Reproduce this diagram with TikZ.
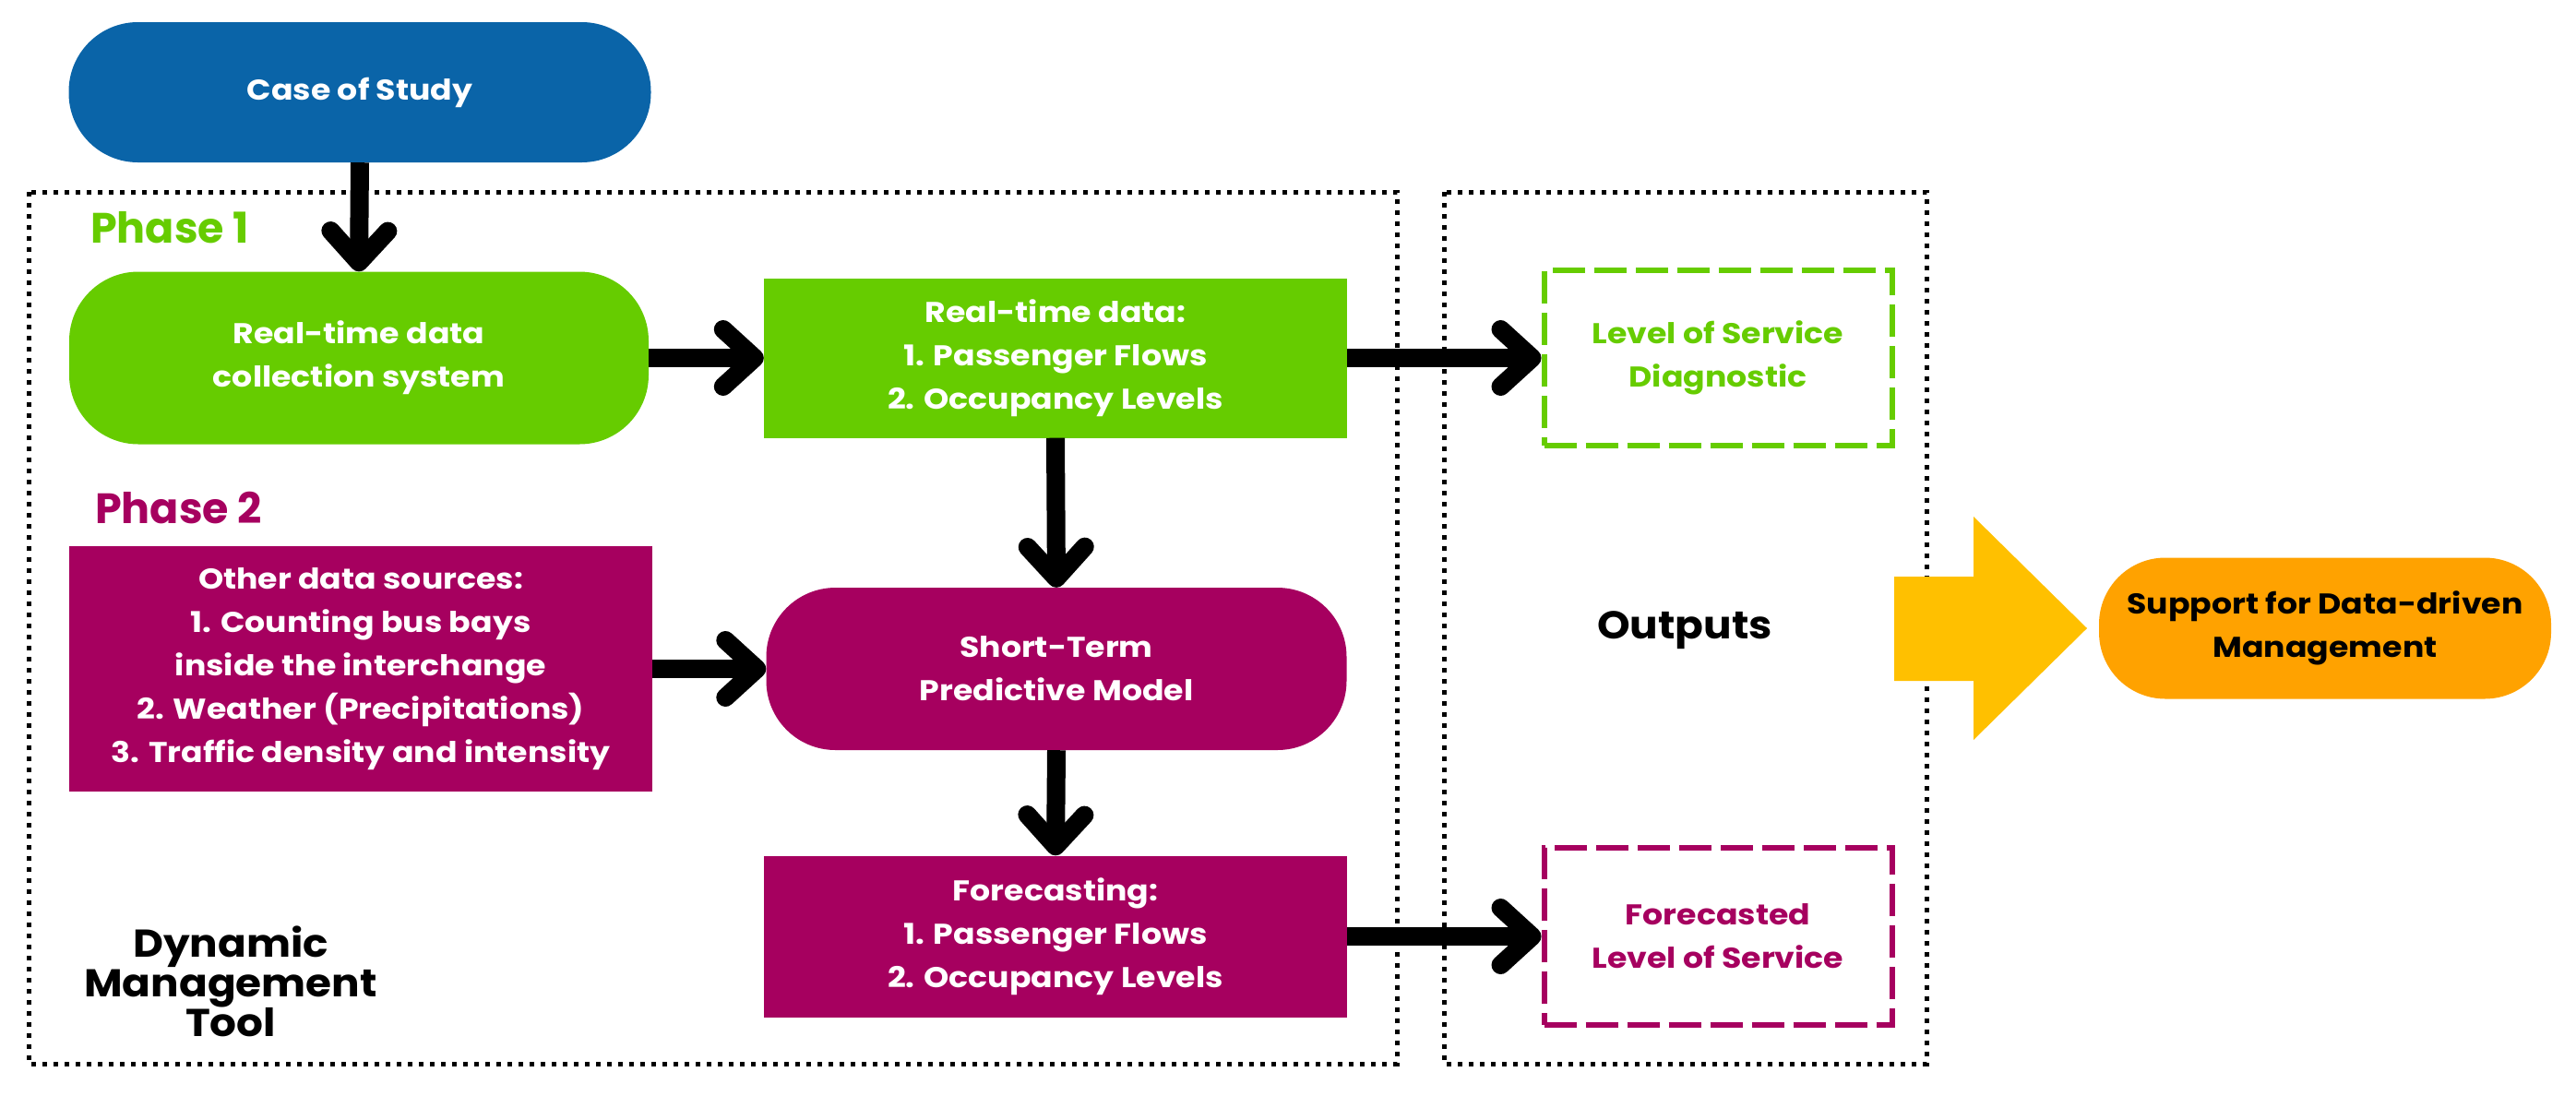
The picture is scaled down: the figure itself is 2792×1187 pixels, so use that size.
\documentclass[tikz,border=0pt]{standalone}
\usepackage{fontspec}
\setmainfont{Poppins}
\newfontfamily\bxfont{Poppins}[FakeStretch=1.12]
\newfontfamily\lbfont{Poppins}[FakeStretch=1.08]
\usetikzlibrary{arrows.meta}
\definecolor{cblue}{HTML}{0A64A8}
\definecolor{cgreen}{HTML}{66CC00}
\definecolor{cmag}{HTML}{A6005F}
\definecolor{corange}{HTML}{FFA200}
\definecolor{cyellow}{HTML}{FFC000}
\begin{document}
\begin{tikzpicture}[x=1pt,y=-1pt,
  boxtext/.style={text=white, font=\bxfont\bfseries\fontsize{31}{47}\selectfont, align=center, inner sep=0pt},
  pill/.style={boxtext, rounded corners=75pt},
  rectbox/.style={boxtext},
  outbox/.style={font=\bxfont\bfseries\fontsize{31}{47}\selectfont, align=center, inner sep=0pt, fill=white, line width=6pt, dash pattern=on 35pt off 10pt},
  frame/.style={line width=5pt, dash pattern=on 5pt off 7pt},
  flow/.style={line width=20pt, -{Straight Barb[length=34pt,width=62pt,round]}},
  label/.style={font=\lbfont\bfseries\fontsize{42}{43}\selectfont, inner sep=0pt, align=center},
  phase/.style={font=\bfseries\fontsize{46}{50}\selectfont, inner sep=0pt},
]
\useasboundingbox (0,0) rectangle (2792,1187);

% frames
\draw[frame] (31,208) rectangle (1514,1153);
\draw[frame] (1565,208) rectangle (2088,1153);

% nodes
\node[pill, fill=cblue, minimum width=631pt, minimum height=152pt] (case) at (390,100) {Case of Study};
\node[pill, fill=cgreen, minimum width=628pt, minimum height=187pt] (rtc) at (389,388) {Real-time data\\collection system};
\node[rectbox, fill=cgreen, minimum width=632pt, minimum height=173pt] (rtd) at (1144,388) {Real-time data:\\1. Passenger Flows\\2. Occupancy Levels};
\node[outbox, draw=cgreen, text=cgreen, minimum width=377pt, minimum height=190pt] (los) at (1862,388) {Level of Service\\Diagnostic};
\node[rectbox, fill=cmag, minimum width=632pt, minimum height=266pt] (other) at (391,725) {Other data sources:\\1. Counting bus bays\\inside the interchange\\2. Weather (Precipitations)\\3. Traffic density and intensity};
\node[pill, fill=cmag, minimum width=629pt, minimum height=176pt] (stpm) at (1145,725) {Short-Term\\Predictive Model};
\node[rectbox, fill=cmag, minimum width=632pt, minimum height=175pt] (fc) at (1144,1015) {Forecasting:\\1. Passenger Flows\\2. Occupancy Levels};
\node[outbox, draw=cmag, text=cmag, minimum width=377pt, minimum height=192pt] (flos) at (1862,1015) {Forecasted\\Level of Service};
\node[pill, fill=corange, text=black, minimum width=490pt, minimum height=153pt, rounded corners=72pt] (sup) at (2520,681) {Support for Data-driven\\Management};

% labels
\node[phase, text=cgreen, anchor=base west] (ph1) at (98,263) {Phase 1};
\node[phase, text=cmag, anchor=base west] (ph2) at (103,567) {Phase 2};
\node[label] (outs) at (1826,683) {Outputs};
\node[label] (dmt) at (250,1064) {Dynamic\\Management\\Tool};

% yellow block arrow
\fill[cyellow] (2053,625) -- (2139,625) -- (2139,560) -- (2262,681) -- (2139,802) -- (2139,738) -- (2053,738) -- cycle;

% connectors
\draw[flow] (case.south) -- (rtc.north);
\draw[flow] (rtc.east) -- (rtd.west);
\draw[flow] (rtd.east) -- (los.west);
\draw[flow] (rtd.south) -- (stpm.north);
\draw[flow] (other.east) -- (stpm.west);
\draw[flow] (stpm.south) -- (fc.north);
\draw[flow] (fc.east) -- (flos.west);
\end{tikzpicture}
\end{document}
